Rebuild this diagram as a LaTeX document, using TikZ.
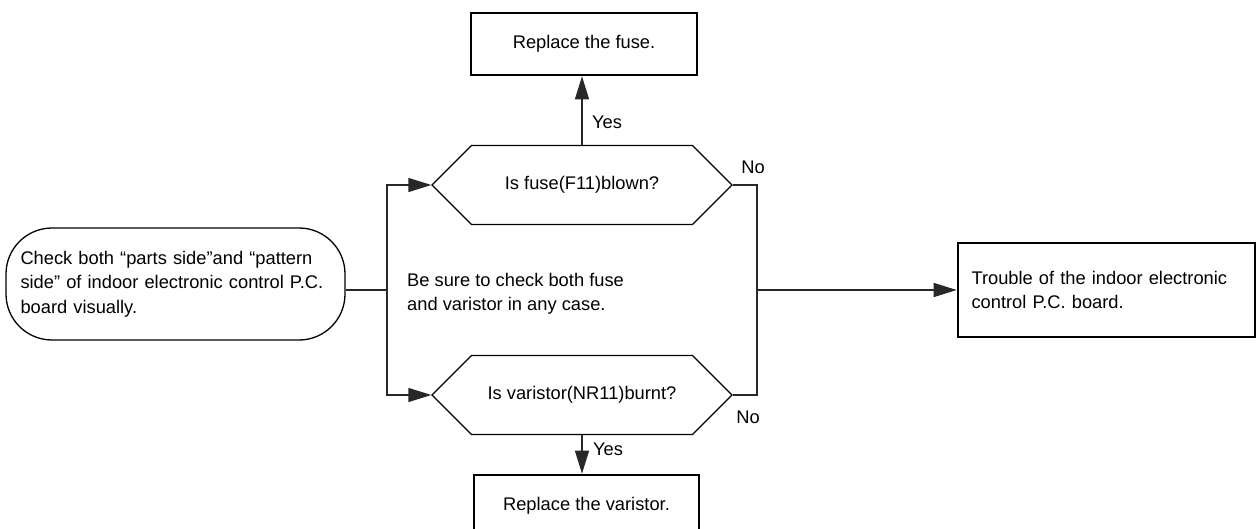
\documentclass[tikz,border=0pt]{standalone}
\usepackage{fontspec}
\setmainfont{Liberation Sans}
\usetikzlibrary{shapes.misc,arrows.meta}
\begin{document}
\begin{tikzpicture}[x=1pt,y=1pt,yscale=-1,
    every node/.style={font=\fontsize{18.3}{24.5}\selectfont},
    conn/.style={draw={rgb,255:red,40;green,40;blue,40},line width=1.3pt},
    arrowconn/.style={conn,-{Triangle[length=23pt,width=14pt]}},
    actionbox/.style={draw,line width=2.6pt,rectangle,inner sep=0pt},
    decision/.style={draw,line width=1.3pt,chamfered rectangle,
      chamfered rectangle xsep=26pt,chamfered rectangle ysep=31pt,
      minimum width=300pt,minimum height=62pt,inner sep=0pt},
    startbox/.style={draw,line width=1.3pt,rectangle,rounded corners=46pt,inner sep=0pt},
    lbl/.style={inner sep=0pt}]
\useasboundingbox (0,0) rectangle (1257,529);
% Start node
\node [startbox,minimum width=339pt,minimum height=112pt,text width=310pt,align=left] (start) at (175.5,284) {Check both “parts side”and “pattern\\side” of indoor electronic control P.C.\\board visually.};
% Decisions
\node [decision] (fuse) at (582,185) {Is fuse(F11)blown?};
\node [decision] (varistor) at (582,395) {Is varistor(NR11)burnt?};
% Action boxes
\node [actionbox,minimum width=226pt,minimum height=62pt] (fuseok) at (584,44) {Replace the fuse.};
\node [actionbox,minimum width=225pt,minimum height=62pt] (varistorok) at (586.5,506) {Replace the varistor.};
\node [actionbox,minimum width=297pt,minimum height=94pt,text width=270pt,align=left] (trouble) at (1106.5,290) {Trouble of the indoor electronic\\control P.C. board.};
% Note
\node [lbl,anchor=west,align=left] (note) at (407,294) {Be sure to check both fuse\\and varistor in any case.};
% Branch points
\coordinate (split) at (387,290);
\coordinate (join) at (757,290);
% Connectors
\draw [conn] (split -| start.east) -- (split);
\draw [arrowconn] (split) |- (fuse.west);
\draw [arrowconn] (split) |- (varistor.west);
\draw [arrowconn] (fuse.north) -- (fuse.north |- fuseok.south);
\draw [arrowconn] (varistor.south) -- (varistor.south |- varistorok.north);
\draw [conn] (fuse.east) -| (join);
\draw [conn] (varistor.east) -| (join);
\draw [arrowconn] (join) -- (trouble.west);
% Labels
\node [lbl] (yesfuse) at (607,122) {Yes};
\node [lbl] (yesvaristor) at (608,449) {Yes};
\node [lbl] (nofuse) at (753,167) {No};
\node [lbl] (novaristor) at (748,417) {No};
\end{tikzpicture}
\end{document}
